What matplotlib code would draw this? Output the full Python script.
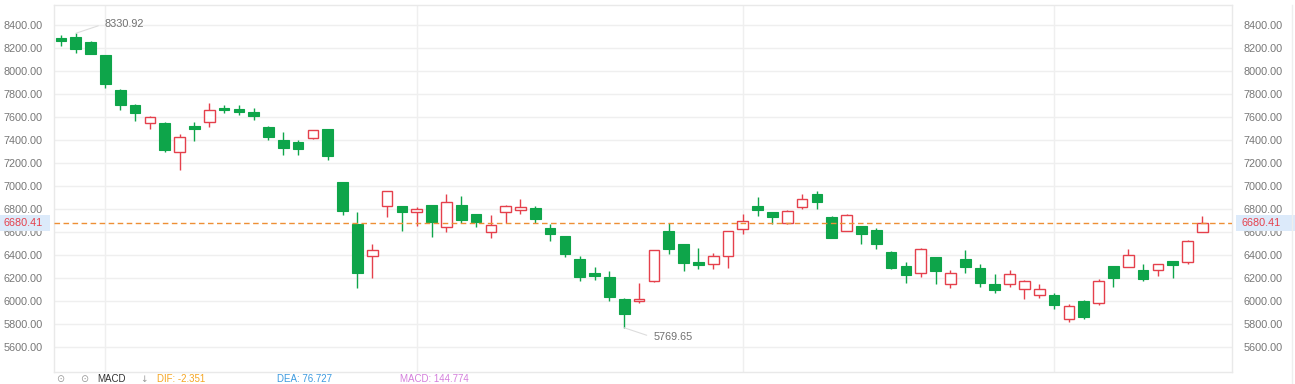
import matplotlib
matplotlib.use("Agg")
import matplotlib.pyplot as plt
from matplotlib.patches import Rectangle
from matplotlib.lines import Line2D

plt.rcParams['font.family'] = ['Liberation Sans', 'DejaVu Sans']

# ----- DATA (daily candles) -----
opens = [8292, 8298, 8252, 8142, 7840, 7707, 7553, 7550, 7296, 7527,
         7556, 7681, 7672, 7646, 7516, 7403, 7385, 7417, 7498, 7037,
         6673, 6397, 6826, 6826, 6779, 6837, 6643, 6837, 6759, 6605,
         6774, 6794, 6808, 6635, 6568, 6368, 6243, 6208, 6020, 6000,
         6174, 6612, 6498, 6342, 6327, 6397, 6631, 6829, 6774, 6684,
         6817, 6933, 6733, 6614, 6655, 6620, 6431, 6307, 6243, 6385,
         6148, 6364, 6287, 6150, 6148, 6109, 6057, 6052, 5848, 6003,
         5988, 6307, 6301, 6272, 6275, 6350, 6344, 6605]
closes = [8266, 8194, 8153, 7892, 7710, 7640, 7603, 7318, 7426, 7501,
          7661, 7661, 7649, 7614, 7431, 7336, 7327, 7487, 7266, 6788,
          6249, 6443, 6956, 6779, 6803, 6692, 6861, 6710, 6692, 6663,
          6829, 6817, 6718, 6588, 6414, 6214, 6222, 6040, 5892, 6020,
          6447, 6455, 6336, 6318, 6391, 6609, 6696, 6797, 6731, 6783,
          6887, 6867, 6553, 6750, 6588, 6498, 6292, 6231, 6455, 6266,
          6246, 6301, 6157, 6101, 6237, 6180, 6104, 5970, 5956, 5864,
          6179, 6205, 6403, 6194, 6322, 6318, 6524, 6680.41]
highs = [8316, 8330.92, 8263, 8145, 7845, 7713, 7611, 7559, 7452, 7559,
         7724, 7704, 7704, 7683, 7522, 7470, 7403, 7490, 7500, 7040,
         6774, 6498, 6958, 6828, 6817, 6840, 6933, 6916, 6762, 6750,
         6835, 6887, 6829, 6672, 6570, 6394, 6298, 6266, 6026, 6156,
         6450, 6678, 6500, 6461, 6420, 6612, 6762, 6904, 6776, 6794,
         6933, 6959, 6742, 6759, 6658, 6637, 6437, 6342, 6463, 6388,
         6272, 6446, 6324, 6237, 6272, 6183, 6148, 6072, 5974, 6011,
         6191, 6310, 6455, 6324, 6325, 6352, 6533, 6742]
lows = [8223, 8162, 8148, 7857, 7666, 7570, 7496, 7298, 7144, 7397,
        7518, 7635, 7620, 7579, 7405, 7275, 7275, 7411, 7231, 6753,
        6118, 6200, 6736, 6614, 6657, 6556, 6606, 6684, 6643, 6553,
        6684, 6762, 6678, 6527, 6388, 6179, 6188, 6005, 5769.65, 5983,
        6165, 6410, 6266, 6278, 6283, 6292, 6582, 6745, 6670, 6670,
        6805, 6805, 6547, 6612, 6494, 6455, 6281, 6159, 6214, 6153,
        6118, 6243, 6127, 6075, 6127, 6017, 6031, 5936, 5822, 5848,
        5970, 6127, 6298, 6174, 6220, 6200, 6327, 6600]
yticks = [5600, 5800, 6000, 6200, 6400, 6600, 6800, 7000, 7200, 7400,
          7600, 7800, 8000, 8200, 8400]
vgrid_idx = [3, 24, 46, 67]
last_price = 6680.41

UP = '#e5404c'
DOWN = '#0ea54a'
TICK_C = '#777777'
GRID_C = '#efefef'

W, H = 1295, 384
fig = plt.figure(figsize=(W / 100, H / 100), dpi=100)
ax = fig.add_axes([54 / W, 12 / H, 1178 / W, 367 / H])

# ----- CANDLES -----
bw = 0.72
for i, (o, c, h, l) in enumerate(zip(opens, closes, highs, lows)):
    col = UP if c >= o else DOWN
    ax.plot([i, i], [l, h], color=col, lw=1.0, zorder=3, solid_capstyle='butt')
    lo, hi = min(o, c), max(o, c)
    if c >= o:
        ax.add_patch(Rectangle((i - bw / 2, lo), bw, hi - lo, facecolor='white',
                               edgecolor=col, lw=1.0, zorder=4))
    else:
        ax.add_patch(Rectangle((i - bw / 2, lo), bw, hi - lo, facecolor=col,
                               edgecolor=col, lw=0.8, zorder=4))

ax.set_xlim(-0.47, 79.0)
ax.set_ylim(5385, 8577)

# grid
ax.set_yticks(yticks)
ax.set_yticklabels([f"{v:.2f}" for v in yticks])
ax.set_xticks(vgrid_idx)
ax.set_xticklabels([])
ax.grid(True, color=GRID_C, lw=1.0)
ax.set_axisbelow(True)
ax.tick_params(axis='both', length=0)
ax.tick_params(axis='y', labelsize=7.8, labelcolor=TICK_C, pad=8.0,
               left=True, right=True, labelleft=True, labelright=True)
for sp in ax.spines.values():
    sp.set_color('#e9e9e9')
    sp.set_linewidth(1.0)

# last price line
ax.axhline(last_price, color='#ee8f35', lw=1.0, ls=(0, (4, 2.5)), zorder=5)

# max / min annotations
imax = highs.index(max(highs))
imin = lows.index(min(lows))
ax.annotate(f"{highs[imax]:.2f}", xy=(imax, highs[imax]), xytext=(21, 7),
            textcoords='offset points', ha='left', va='center', fontsize=7.8,
            color='#707070',
            arrowprops=dict(arrowstyle='-', color='#dddddd', lw=0.8,
                            shrinkA=3, shrinkB=0, relpos=(0, 0.5)))
ax.annotate(f"{lows[imin]:.2f}", xy=(imin, lows[imin]), xytext=(21, -7),
            textcoords='offset points', ha='left', va='center', fontsize=7.8,
            color='#707070',
            arrowprops=dict(arrowstyle='-', color='#dddddd', lw=0.8,
                            shrinkA=3, shrinkB=0, relpos=(0, 0.5)))

# price tags on both axes
ptag_y = (H - 231) / H
ptag_h = 16 / H
fig.patches.append(Rectangle((0, ptag_y), 50 / W, ptag_h, transform=fig.transFigure,
                             facecolor='#dceafa', edgecolor='none', zorder=1))
fig.patches.append(Rectangle((1236 / W, ptag_y), 59 / W, ptag_h, transform=fig.transFigure,
                             facecolor='#dceafa', edgecolor='none', zorder=1))
fig.text(43 / W, (H - 223) / H, f"{last_price:.2f}", ha='right', va='center',
         fontsize=7.8, color=UP, zorder=3)
fig.text(1241 / W, (H - 223) / H, f"{last_price:.2f}", ha='left', va='center',
         fontsize=7.8, color=UP, zorder=3)

# right panel edge
fig.add_artist(Line2D([1292 / W, 1292 / W], [0, (H - 5) / H], transform=fig.transFigure,
                      color='#eeeeee', lw=1.0))

# MACD legend strip along the bottom edge
ly = 1.5 / H
fig.text(56 / W, ly, "⊙", fontsize=7, color='#999999', va='baseline', family='DejaVu Sans')
fig.text(80 / W, ly, "⊙", fontsize=7, color='#999999', va='baseline', family='DejaVu Sans')
fig.text(97 / W, ly, "MACD", fontsize=7, color='#333333', va='baseline')
fig.text(140 / W, ly, "↓", fontsize=6.5, color='#999999', va='baseline', family='DejaVu Sans')
fig.text(157 / W, ly, "DIF: -2.351", fontsize=7, color='#f5a623', va='baseline')
fig.text(277 / W, ly, "DEA: 76.727", fontsize=7, color='#3d9be0', va='baseline')
fig.text(400 / W, ly, "MACD: 144.774", fontsize=7, color='#d47fdc', va='baseline')

fig.savefig("out.png", dpi=100)
